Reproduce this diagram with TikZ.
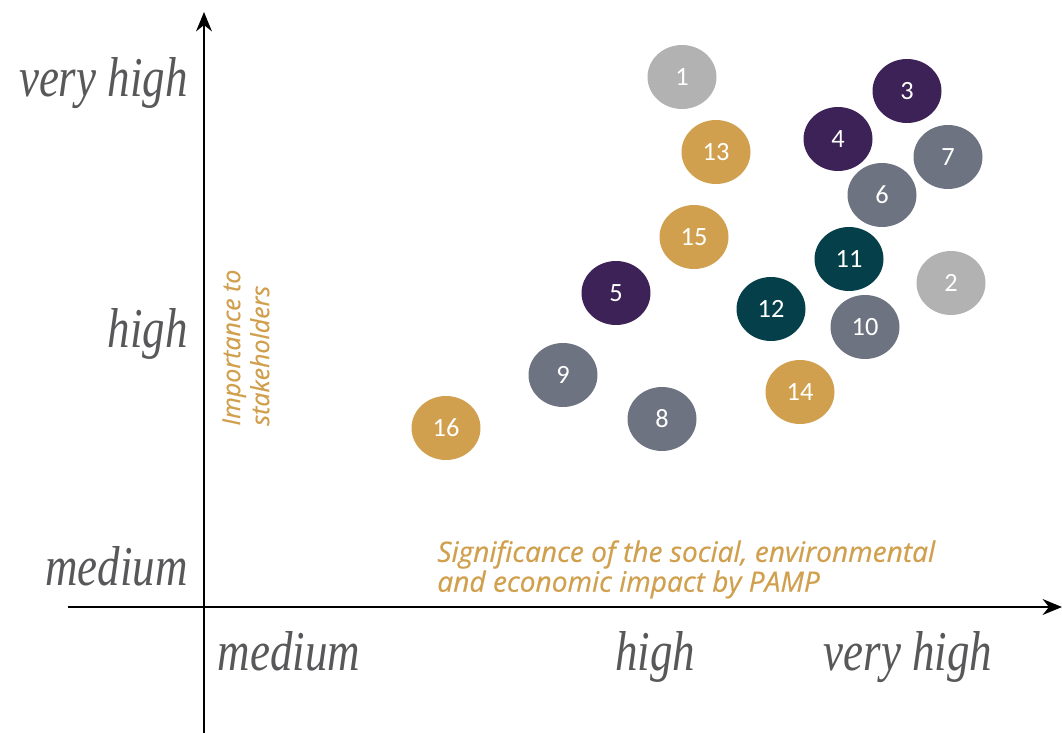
\documentclass[tikz,border=0pt]{standalone}
\usepackage{fontspec}
\setmainfont{Carlito}
\newfontfamily\captionfont[FakeBold=0.5]{Open Sans}
\newfontfamily\gradefont[FakeStretch=0.8]{Liberation Serif}
\usetikzlibrary{shapes.geometric,arrows.meta}

\definecolor{silver}{RGB}{178,178,178}
\definecolor{gold}{RGB}{209,160,79}
\definecolor{plum}{RGB}{60,34,87}
\definecolor{slate}{RGB}{109,115,128}
\definecolor{teal1}{RGB}{5,64,74}
\definecolor{ink}{RGB}{88,88,90}

\tikzstyle{axis} = [draw, line width=1.2pt, -{Stealth[length=11pt,width=9pt]}]
\tikzstyle{topic} = [ellipse, minimum width=1.38cm, minimum height=1.28cm, inner sep=0pt, text=white, font=\fontsize{15}{15}\selectfont]
\tikzstyle{grade} = [text=ink, inner sep=0pt, font=\gradefont\itshape\fontsize{32}{32}\selectfont]
\tikzstyle{caption} = [text=gold, inner sep=0pt, align=left, font=\captionfont\itshape\fontsize{16}{15.3}\selectfont]

\begin{document}
\begin{tikzpicture}[x=0.02cm, y=-0.02cm]
    \useasboundingbox (0,0) rectangle (1062,733);

    % axes
    \coordinate (ybot) at (204,733);
    \coordinate (ytop) at (204,12);
    \coordinate (xleft) at (68,607);
    \coordinate (xright) at (1062,607);
    \draw [axis] (ybot) -- (ytop);
    \draw [axis] (xleft) -- (xright);

    % grades on the axes
    \node [grade, anchor=base east] (yveryhigh) at (188,97)  {very high};
    \node [grade, anchor=base east] (yhigh)     at (188,348) {high};
    \node [grade, anchor=base east] (ymedium)   at (188,585) {medium};
    \node [grade, anchor=base] (xmedium)   at (289,670) {medium};
    \node [grade, anchor=base] (xhigh)     at (655,670) {high};
    \node [grade, anchor=base] (xveryhigh) at (908,670) {very high};

    % axis titles
    \node [caption, rotate=90, anchor=north west, font=\captionfont\itshape\fontsize{14.2}{16.5}\selectfont]
        (ytitle) at (222,426) {Importance to\\stakeholders};
    \node [caption, anchor=north west] (xtitle) at (437,540)
        {Significance of the social, environmental\\and economic impact by PAMP};

    % topics
    \node [topic, fill=silver] (t1)  at (682,77)  {1};
    \node [topic, fill=plum]   (t3)  at (907,91)  {3};
    \node [topic, fill=plum]   (t4)  at (838,139) {4};
    \node [topic, fill=gold]   (t13) at (716,152) {13};
    \node [topic, fill=slate]  (t7)  at (948,157) {7};
    \node [topic, fill=slate]  (t6)  at (882,195) {6};
    \node [topic, fill=gold]   (t15) at (694,237) {15};
    \node [topic, fill=teal1]  (t11) at (849,259) {11};
    \node [topic, fill=silver] (t2)  at (951,283) {2};
    \node [topic, fill=plum]   (t5)  at (616,293) {5};
    \node [topic, fill=teal1]  (t12) at (771,309) {12};
    \node [topic, fill=slate]  (t10) at (865,327) {10};
    \node [topic, fill=slate]  (t9)  at (563,375) {9};
    \node [topic, fill=gold]   (t14) at (800,392) {14};
    \node [topic, fill=slate]  (t8)  at (662,419) {8};
    \node [topic, fill=gold]   (t16) at (446,428) {16};
\end{tikzpicture}
\end{document}
